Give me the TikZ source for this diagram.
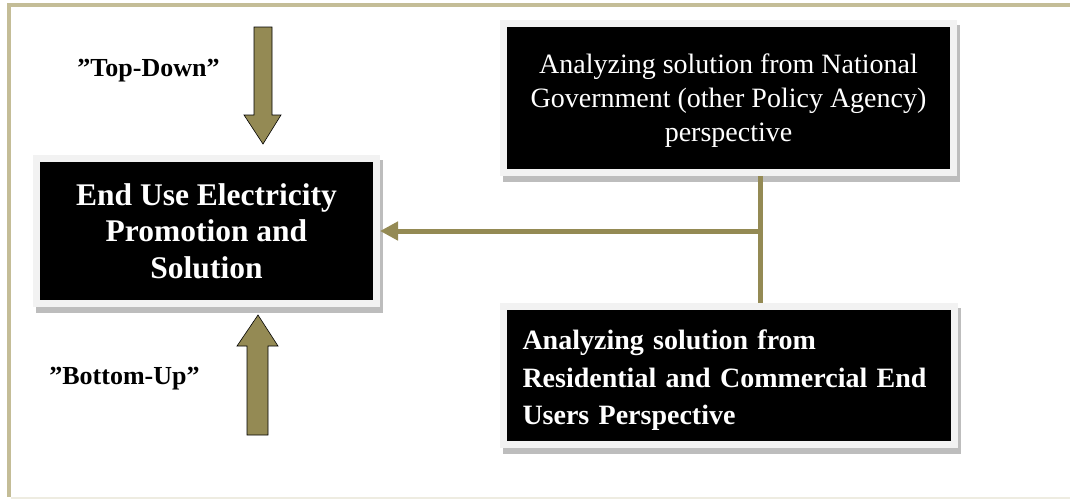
\documentclass[tikz,border=0pt]{standalone}
\usepackage{fontspec}
\setmainfont{Liberation Serif}
\usepackage{tikz}
\usetikzlibrary{arrows.meta,calc,positioning,backgrounds}
\definecolor{arrowolive}{HTML}{948A54}
\definecolor{rimtan}{HTML}{C4BD97}
\definecolor{rimlight}{HTML}{EEECE1}
\definecolor{boxrim}{HTML}{F2F2F2}
\definecolor{boxshadow}{HTML}{BDBDBD}

\begin{document}
\begin{tikzpicture}[x=1pt,y=-1pt,
  box/.style={fill=black,draw=boxrim,line width=7pt,text=white,align=center,
    font=\fontsize{28}{34}\selectfont,inner sep=0pt},
  keybox/.style={box,font=\bfseries\fontsize{31.5}{36.5}\selectfont},
  userbox/.style={box,font=\bfseries\fontsize{28}{37.5}\selectfont,
    align=left,text width=412pt,inner xsep=19.5pt},
  link/.style={draw=arrowolive,line width=5pt},
  fat/.style={fill=arrowolive,draw=black,line width=.6pt,line join=miter},
  cue/.style={font=\bfseries\fontsize{26}{30}\selectfont,inner sep=0pt},
  backdrop/.style={fill=boxshadow}]
\useasboundingbox (0,0) rectangle (1070,499);
% page frame
\draw[rimtan,line width=4pt] (1070,5) -- (9,5) -- (9,497);
\draw[rimlight,line width=2pt] (11,497.5) -- (1070,497.5);

\node[keybox,minimum width=340pt,minimum height=145pt] (enduse) at (206.5,231)
  {End Use Electricity\\Promotion and\\Solution};
\node[box,minimum width=450pt,minimum height=149pt] (govt) at (728.5,98)
  {\rule{0pt}{25.5pt}Analyzing solution from National\\Government (other Policy Agency)\\perspective};
\node[userbox,minimum height=138pt,text height=29pt] (users) at (728.5,375.5)
  {Analyzing solution from\\Residential and Commercial End\\Users Perspective};

\begin{scope}[on background layer]
\foreach \n in {enduse,govt,users}
  \fill[backdrop] ($(\n.north west)+(3,5)$) rectangle ($(\n.south east)+(3,6)$);
\end{scope}

\node[cue] (topcue) at (148.5,71) {”Top-Down”};
\node[cue] (bottomcue) at (124.5,379) {”Bottom-Up”};

% block arrows
\draw[fat] (254,27) -- (272,27) -- (272,115) -- (281,115) -- (263,144)
  -- (244,115) -- (254,115) -- cycle;
\draw[fat] (247,435) -- (268,435) -- (268,346) -- (278,346) -- (258,315)
  -- (237,346) -- (247,346) -- cycle;

\coordinate (junc) at (760,231);
\draw[link] (govt.south -| junc) -- (users.north -| junc);
\draw[link,-{Triangle[length=18pt,width=18pt]}] (junc) -- (enduse.east);
\end{tikzpicture}
\end{document}
